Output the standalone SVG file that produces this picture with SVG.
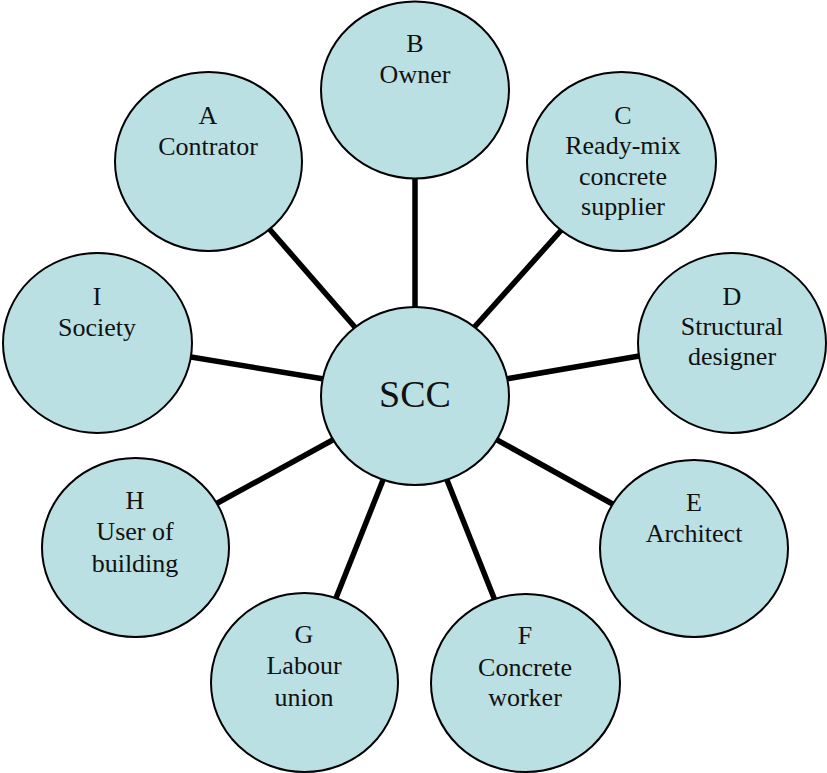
<svg xmlns="http://www.w3.org/2000/svg" width="827" height="773" viewBox="0 0 827 773">
<style>
.n ellipse{fill:#BAE0E3;stroke:#000;stroke-width:2}
.n text{font-family:"Liberation Serif","Times New Roman",serif;font-size:26px;fill:#111;text-anchor:middle}
#conn line{stroke:#000;stroke-width:5.5}
</style>
<rect width="827" height="773" fill="#fff"/>
<g id="conn">
<line x1="265" y1="224" x2="360" y2="333"/>
<line x1="415" y1="175" x2="415" y2="312"/>
<line x1="565" y1="226" x2="470" y2="332"/>
<line x1="500" y1="380" x2="645" y2="355"/>
<line x1="490" y1="436" x2="618" y2="507"/>
<line x1="445" y1="475" x2="496" y2="603"/>
<line x1="385" y1="475" x2="334" y2="603"/>
<line x1="340" y1="436" x2="212" y2="506"/>
<line x1="185" y1="356" x2="330" y2="380"/>
</g>
<g id="nodeA" class="n"><ellipse cx="208.5" cy="161.5" rx="93.5" ry="89.5"/><text x="208" y="124">A</text><text x="208" y="155">Contrator</text></g>
<g id="nodeB" class="n"><ellipse cx="415" cy="90" rx="94" ry="88.5"/><text x="415" y="52">B</text><text x="415" y="83">Owner</text></g>
<g id="nodeC" class="n"><ellipse cx="621.5" cy="161.5" rx="94.5" ry="89.5"/><text x="623" y="124">C</text><text x="623" y="154">Ready-mix</text><text x="623" y="185">concrete</text><text x="623" y="215">supplier</text></g>
<g id="nodeD" class="n"><ellipse cx="732" cy="343" rx="94" ry="90"/><text x="732" y="305">D</text><text x="732" y="335">Structural</text><text x="732" y="365">designer</text></g>
<g id="nodeE" class="n"><ellipse cx="694" cy="548.5" rx="94" ry="88.5"/><text x="694" y="511">E</text><text x="694" y="542">Architect</text></g>
<g id="nodeF" class="n"><ellipse cx="525.5" cy="683" rx="94.5" ry="89"/><text x="525" y="644">F</text><text x="525" y="676">Concrete</text><text x="525" y="706">worker</text></g>
<g id="nodeG" class="n"><ellipse cx="304.5" cy="682.5" rx="93.5" ry="89.5"/><text x="304" y="643">G</text><text x="304" y="674">Labour</text><text x="304" y="706">union</text></g>
<g id="nodeH" class="n"><ellipse cx="135.5" cy="547.5" rx="93.5" ry="89.5"/><text x="135" y="509">H</text><text x="135" y="540">User of</text><text x="135" y="572">building</text></g>
<g id="nodeI" class="n"><ellipse cx="97.5" cy="343" rx="94.5" ry="90"/><text x="97" y="305">I</text><text x="97" y="336">Society</text></g>
<g id="nodeSCC" class="n"><ellipse cx="415" cy="396" rx="94" ry="89"/><text x="415" y="407" style="font-size:38px">SCC</text></g>
</svg>
